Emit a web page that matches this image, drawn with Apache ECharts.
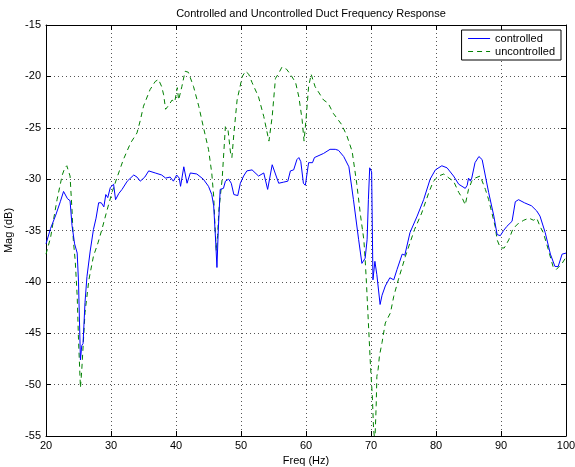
<!DOCTYPE html>
<html>
<head>
<meta charset="utf-8">
<script src="https://cdn.jsdelivr.net/npm/echarts@6/dist/echarts.min.js"></script>
<style>
  html, body { margin: 0; padding: 0; background: #fff; }
  #chart { width: 575px; height: 467px; }
</style>
</head>
<body>
<div id="chart"></div>
<script>
// frequencies (Hz) and magnitudes (dB)
const controlledFreq = [20.0, 20.7, 21.5, 22.2, 22.7, 23.0, 23.3, 23.7, 24.0, 24.4, 24.8, 25.0, 25.3, 25.5, 25.7, 26.0, 26.3, 26.8, 27.3, 27.7,
  28.1, 28.5, 28.9, 29.2, 29.5, 29.9, 30.4, 30.7, 31.2, 31.7, 32.5, 33.5, 34.0, 34.5, 35.2, 35.8, 36.8, 37.8, 38.4, 39.1,
  39.6, 40.1, 40.5, 40.7, 41.2, 41.7, 42.2, 43.2, 44.2, 45.0, 45.5, 45.8, 46.1, 46.3, 46.5, 46.8, 47.3, 47.6, 48.1, 48.5,
  48.9, 49.5, 49.9, 50.4, 50.9, 51.7, 52.7, 53.5, 54.1, 54.8, 55.3, 55.8, 56.5, 57.2, 57.6, 58.1, 58.6, 58.9, 59.2, 59.6,
  59.9, 60.4, 61.0, 61.3, 62.0, 62.7, 63.7, 64.5, 65.0, 65.8, 66.6, 67.3, 68.1, 68.6, 69.1, 69.4, 69.6, 69.8, 70.1, 70.3,
  70.6, 70.9, 71.4, 71.7, 72.2, 72.9, 73.5, 74.0, 74.8, 75.2, 76.0, 77.1, 78.1, 79.1, 79.9, 80.9, 81.7, 82.7, 83.5, 84.5,
  84.8, 85.0, 85.3, 85.5, 86.0, 86.6, 87.1, 87.6, 88.1, 88.9, 89.4, 89.9, 90.4, 90.9, 91.7, 92.2, 92.7, 93.6, 94.7, 95.5,
  96.0, 96.8, 97.6, 98.3, 98.8, 99.4, 100.0];
const controlledMag = [-36.3, -34.8, -33.5, -32.2, -31.2, -31.3, -31.9, -32.1, -34.5, -36.3, -37.2, -40.0, -47.6, -46.2, -46.0, -42.0, -39.5, -37.0, -34.9, -33.8,
  -32.3, -32.3, -32.7, -31.5, -31.8, -30.8, -30.5, -32.0, -31.4, -31.0, -30.2, -29.6, -29.8, -30.2, -29.8, -29.2, -29.4, -29.6, -29.9, -29.8,
  -30.2, -29.6, -29.9, -30.7, -28.8, -30.4, -29.4, -29.5, -30.0, -30.7, -31.5, -32.6, -36.0, -38.6, -35.0, -31.0, -30.9, -30.2, -30.0, -30.4,
  -31.5, -31.6, -30.4, -29.7, -29.2, -29.1, -29.7, -29.4, -31.0, -28.6, -29.5, -30.4, -30.3, -30.2, -29.2, -29.1, -28.1, -27.9, -28.3, -30.4,
  -30.6, -28.4, -28.4, -27.9, -27.7, -27.5, -27.1, -27.1, -27.2, -27.8, -28.8, -32.0, -35.9, -38.2, -37.7, -35.9, -32.0, -28.9, -29.3, -39.8,
  -38.0, -39.3, -42.2, -41.3, -40.4, -39.6, -39.8, -38.8, -37.3, -37.4, -35.2, -33.6, -32.0, -30.0, -29.1, -28.7, -28.9, -29.7, -30.5, -30.9,
  -30.6, -29.9, -30.2, -29.9, -28.4, -27.8, -28.1, -29.7, -31.3, -33.6, -35.4, -35.5, -35.0, -34.6, -34.1, -32.2, -32.0, -32.3, -32.6, -33.1,
  -33.6, -35.2, -37.3, -38.5, -38.5, -37.3, -37.2];

const uncontrolledFreq = [20.0, 20.7, 21.2, 21.7, 22.5, 22.9, 23.2, 23.7, 24.0, 24.2, 24.5, 24.8, 25.0, 25.3, 25.5, 26.0, 26.6, 27.3, 28.0, 28.6,
  29.4, 30.2, 30.9, 31.9, 33.0, 34.0, 34.5, 35.0, 36.0, 36.8, 37.3, 37.8, 38.1, 38.4, 38.9, 39.4, 39.8, 40.2, 40.4, 40.9,
  41.4, 41.9, 42.7, 43.5, 44.2, 45.0, 45.5, 45.8, 46.0, 46.2, 46.4, 46.6, 47.1, 47.6, 48.0, 48.4, 48.6, 48.9, 49.4, 50.2,
  50.7, 51.2, 51.7, 52.7, 53.5, 54.3, 54.8, 55.3, 55.8, 56.3, 57.0, 57.6, 58.4, 58.9, 59.4, 59.7, 60.0, 60.4, 60.8, 61.4,
  62.7, 63.4, 64.2, 65.5, 66.3, 67.1, 67.8, 68.4, 68.9, 69.1, 69.3, 69.6, 69.9, 70.2, 70.4, 70.6, 70.8, 70.9, 71.1, 71.3,
  71.7, 72.2, 73.0, 73.5, 74.2, 75.3, 76.0, 76.7, 77.8, 78.9, 79.6, 80.4, 81.2, 82.0, 82.7, 83.5, 84.0, 84.5, 85.0, 85.5,
  86.0, 86.8, 87.6, 88.1, 88.6, 89.1, 89.4, 89.9, 90.5, 91.2, 91.8, 92.5, 93.5, 94.3, 95.0, 95.5, 96.0, 96.5, 97.3, 98.0,
  98.5, 99.4, 100.0];
const uncontrolledMag = [-37.3, -35.7, -33.8, -32.0, -29.6, -28.9, -28.7, -29.7, -33.0, -35.9, -38.0, -41.4, -45.6, -50.3, -48.6, -43.0, -39.8, -37.5, -36.2, -34.9,
  -33.0, -31.2, -29.9, -28.1, -26.5, -25.5, -24.3, -22.9, -21.3, -20.5, -20.3, -21.0, -21.8, -23.2, -22.8, -22.3, -22.5, -21.1, -22.3, -21.0,
  -19.5, -19.6, -21.0, -22.9, -24.9, -27.1, -29.4, -31.7, -34.6, -37.0, -35.5, -33.0, -30.0, -24.9, -25.2, -27.5, -27.9, -25.6, -22.3, -20.0,
  -19.5, -19.8, -20.6, -22.0, -23.9, -26.3, -23.9, -20.2, -19.7, -19.1, -19.3, -19.8, -20.6, -22.0, -24.2, -26.3, -24.2, -21.0, -19.8, -21.0,
  -22.3, -22.6, -23.6, -24.7, -25.8, -27.3, -30.4, -33.6, -35.9, -37.8, -40.1, -44.0, -47.9, -51.1, -54.4, -55.5, -52.0, -49.2, -48.5, -47.2,
  -45.9, -44.0, -43.0, -41.4, -39.8, -37.5, -36.2, -34.9, -33.3, -31.3, -30.2, -29.7, -29.5, -29.9, -30.2, -31.3, -31.8, -32.5, -31.0, -30.2,
  -29.9, -29.7, -31.0, -32.0, -33.3, -34.6, -35.9, -36.7, -36.7, -35.9, -34.9, -34.4, -34.0, -33.8, -34.0, -33.8, -34.6, -35.2, -36.9, -38.5,
  -38.8, -38.2, -37.6];

const xTicks = [20, 30, 40, 50, 60, 70, 80, 90, 100];
const yTicks = [-55, -50, -45, -40, -35, -30, -25, -20, -15];

const font = 'Liberation Sans, Arial, Helvetica, sans-serif';

function pairs(xs, ys) {
  return xs.map((x, i) => [x, ys[i]]);
}

const chart = echarts.init(document.getElementById('chart'), null, { renderer: 'canvas' });

const baseX = {
  type: 'value',
  min: xTicks[0],
  max: xTicks[xTicks.length - 1],
  interval: 10,
  axisLine: { show: true, onZero: false, lineStyle: { color: '#000', width: 1 } },
  axisTick: { show: true, inside: true, length: 5, lineStyle: { color: '#000' } },
  splitLine: { show: false }
};
const baseY = {
  type: 'value',
  min: yTicks[0],
  max: yTicks[yTicks.length - 1],
  interval: 5,
  axisLine: { show: true, onZero: false, lineStyle: { color: '#000', width: 1 } },
  axisTick: { show: true, inside: true, length: 5, lineStyle: { color: '#000' } },
  splitLine: { show: false }
};

chart.setOption({
  animation: false,
  backgroundColor: '#fff',
  textStyle: { fontFamily: font },
  title: {
    text: 'Controlled and Uncontrolled Duct Frequency Response',
    left: 306,
    top: 3,
    textAlign: 'center',
    textStyle: { fontSize: 11, fontWeight: 'normal', color: '#000', fontFamily: font }
  },
  grid: { left: 46, right: 9, top: 25, bottom: 31, containLabel: false, outerBoundsMode: 'none' },
  legend: {
    right: 14,
    top: 30,
    orient: 'vertical',
    backgroundColor: '#fff',
    borderColor: '#000',
    borderWidth: 1,
    borderRadius: 0,
    padding: [3, 6, 3, 6],
    itemGap: 2,
    itemWidth: 22,
    itemHeight: 10,
    itemStyle: { opacity: 0 },
    lineStyle: { width: 1 },
    textStyle: { fontSize: 11, color: '#000', fontFamily: font },
    data: ['controlled', 'uncontrolled']
  },
  xAxis: [
    Object.assign({}, baseX, {
      position: 'bottom',
      name: 'Freq (Hz)',
      nameLocation: 'middle',
      nameGap: 18,
      nameTextStyle: { fontSize: 11, color: '#000', fontFamily: font },
      axisLabel: { color: '#000', fontSize: 11, margin: 4, fontFamily: font },
      splitLine: { show: true, lineStyle: { color: '#555', width: 1, type: [1, 3] } }
    }),
    Object.assign({}, baseX, { position: 'top', axisLabel: { show: false } })
  ],
  yAxis: [
    Object.assign({}, baseY, {
      position: 'left',
      name: 'Mag (dB)',
      nameLocation: 'middle',
      nameGap: 24,
      nameTextStyle: { fontSize: 11, color: '#000', fontFamily: font },
      axisLabel: { color: '#000', fontSize: 11, margin: 5, fontFamily: font },
      splitLine: { show: true, lineStyle: { color: '#555', width: 1, type: [1, 3] } }
    }),
    Object.assign({}, baseY, { position: 'right', axisLabel: { show: false } })
  ],
  series: [
    {
      name: 'controlled',
      type: 'line',
      symbol: 'none',
      clip: true,
      data: pairs(controlledFreq, controlledMag),
      lineStyle: { color: '#0000ff', width: 1 },
      itemStyle: { color: '#0000ff' },
      z: 3
    },
    {
      name: 'uncontrolled',
      type: 'line',
      symbol: 'none',
      clip: true,
      data: pairs(uncontrolledFreq, uncontrolledMag),
      lineStyle: { color: '#008000', width: 1, type: [5, 4] },
      itemStyle: { color: '#008000' },
      z: 2
    }
  ]
});
</script>
</body>
</html>
